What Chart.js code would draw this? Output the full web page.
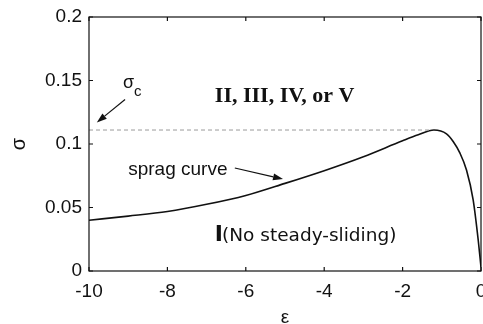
<!DOCTYPE html>
<html>
<head>
<meta charset="utf-8">
<script src="https://cdn.jsdelivr.net/npm/chart.js@4.4.0/dist/chart.umd.min.js"></script>
<style>
html, body { margin: 0; padding: 0; background: #fff; }
</style>
</head>
<body>
<canvas id="mycanvas" width="483" height="324"></canvas>
<script>
// sprag curve
var strain = [-10, -9, -8, -7, -6, -5, -4, -3, -2, -1.6, -1.2, -0.88, -0.71, -0.54, -0.37, -0.2, -0.07, 0];
var stress = [0.040, 0.0432, 0.0468, 0.0525, 0.0595, 0.069, 0.079, 0.090, 0.1025, 0.1072, 0.111, 0.108, 0.102, 0.093, 0.0795, 0.056, 0.024, 0.003];

// critical stress level (dashed)
var sigmaCStrain = [-10, -1.3];
var sigmaCStress = [0.111, 0.111];

var xTickLabels = ['-10', '-8', '-6', '-4', '-2', '0'];
var yTickLabels = ['0', '0.05', '0.1', '0.15', '0.2'];

function toPoints(xs, ys) {
	var pts = [];
	for (var i in xs) {
		pts.push({x: xs[i], y: ys[i]});
	}
	return pts;
}

var SANS = "'Liberation Sans', Arial, sans-serif";

function arrow(ctx, x1, y1, x2, y2) {
	var ang = Math.atan2(y2 - y1, x2 - x1);
	var len = 10, half = 3.5;
	var bx = x2 - len * Math.cos(ang), by = y2 - len * Math.sin(ang);
	ctx.beginPath();
	ctx.moveTo(x1, y1);
	ctx.lineTo(bx, by);
	ctx.stroke();
	ctx.beginPath();
	ctx.moveTo(x2, y2);
	ctx.lineTo(bx + half * Math.sin(ang), by - half * Math.cos(ang));
	ctx.lineTo(bx - half * Math.sin(ang), by + half * Math.cos(ang));
	ctx.closePath();
	ctx.fill();
}

// box, inward ticks on all four sides, and the text notes
var framePlugin = {
	id: 'frame',
	afterDraw: function(chart) {
		var ctx = chart.ctx;
		var a = chart.chartArea;
		var xs = chart.scales.x, ys = chart.scales.y;
		var X = function(v) { return xs.getPixelForValue(v); };
		var Y = function(v) { return ys.getPixelForValue(v); };

		ctx.save();
		ctx.strokeStyle = '#111';
		ctx.lineWidth = 1.2;
		ctx.strokeRect(a.left, a.top, a.right - a.left, a.bottom - a.top);
		ctx.beginPath();
		xs.ticks.forEach(function(t) {
			var px = X(t.value);
			ctx.moveTo(px, a.bottom); ctx.lineTo(px, a.bottom - 4);
			ctx.moveTo(px, a.top); ctx.lineTo(px, a.top + 4);
		});
		ys.ticks.forEach(function(t) {
			var py = Y(t.value);
			ctx.moveTo(a.left, py); ctx.lineTo(a.left + 4, py);
			ctx.moveTo(a.right, py); ctx.lineTo(a.right - 4, py);
		});
		ctx.stroke();

		ctx.fillStyle = '#111';
		ctx.textBaseline = 'alphabetic';
		ctx.textAlign = 'left';

		// sigma_c label + arrow
		ctx.font = '18px ' + SANS;
		ctx.fillText('σ', X(-9.13), Y(0.144));
		ctx.font = '15px ' + SANS;
		ctx.fillText('c', X(-8.85), Y(0.1378));
		ctx.lineWidth = 1.2;
		arrow(ctx, X(-9.08), Y(0.135), X(-9.80), Y(0.117));

		// unstable region label
		ctx.textAlign = 'center';
		ctx.font = "bold 22px 'Liberation Serif', 'Times New Roman', serif";
		ctx.fillText('II, III, IV, or V', X(-5.01), Y(0.133));

		// sprag curve label + arrow
		ctx.textAlign = 'left';
		ctx.font = '19px ' + SANS;
		ctx.fillText('sprag curve', X(-9.0), Y(0.0756));
		arrow(ctx, X(-6.28), Y(0.0811), X(-5.05), Y(0.0724));

		// region I label
		ctx.font = "bold 22px 'DejaVu Sans', sans-serif";
		var ix = X(-6.79), iy = Y(0.0236);
		ctx.fillText('I', ix, iy);
		var w = ctx.measureText('I').width;
		ctx.font = "18.5px 'DejaVu Sans', sans-serif";
		ctx.fillText('(No steady-sliding)', ix + w - 1, iy);
		ctx.restore();
	}
};

var ctx = document.getElementById('mycanvas');

var chart = new Chart(ctx, {
	type: 'line',
	data: {
		datasets: [
			{
				label: 'sigma_c',
				data: toPoints(sigmaCStrain, sigmaCStress),
				borderColor: '#9a9a9a',
				borderWidth: 1,
				borderDash: [4, 3],
				pointRadius: 0,
				fill: false
			},
			{
				label: 'sprag curve',
				data: toPoints(strain, stress),
				borderColor: '#111',
				borderWidth: 1.6,
				pointRadius: 0,
				cubicInterpolationMode: 'monotone',
				fill: false
			}
		]
	},
	options: {
		responsive: false,
		animation: false,
		devicePixelRatio: 1,
		layout: {padding: {top: 17, right: 2, left: 0, bottom: 0}},
		plugins: {legend: {display: false}, tooltip: {enabled: false}},
		scales: {
			x: {
				type: 'linear',
				min: -10,
				max: 0,
				grid: {display: false, drawTicks: false},
				border: {display: false},
				ticks: {
					stepSize: 2,
					maxRotation: 0,
					padding: 9,
					color: '#111',
					font: {family: SANS, size: 19},
					callback: function(v, i) { return xTickLabels[i]; }
				},
				title: {
					display: true,
					text: 'ε',
					color: '#111',
					font: {family: SANS, size: 19, lineHeight: 1},
					padding: {top: 0, bottom: -3}
				},
				afterFit: function(s) {
					s.height = 53;
					s.paddingLeft = 0;
					s.paddingRight = 0;
				}
			},
			y: {
				min: 0,
				max: 0.2,
				grid: {display: false, drawTicks: false},
				border: {display: false},
				ticks: {
					stepSize: 0.05,
					padding: 7,
					color: '#111',
					font: {family: SANS, size: 19},
					callback: function(v, i) { return yTickLabels[i]; }
				},
				title: {
					display: true,
					text: 'σ',
					color: '#111',
					font: {family: SANS, size: 20, lineHeight: 1},
					padding: {top: 9, bottom: 0}
				},
				afterFit: function(s) {
					s.width = 89;
					s.paddingTop = 0;
					s.paddingBottom = 0;
				}
			}
		}
	},
	plugins: [framePlugin]
});
</script>
</body>
</html>
